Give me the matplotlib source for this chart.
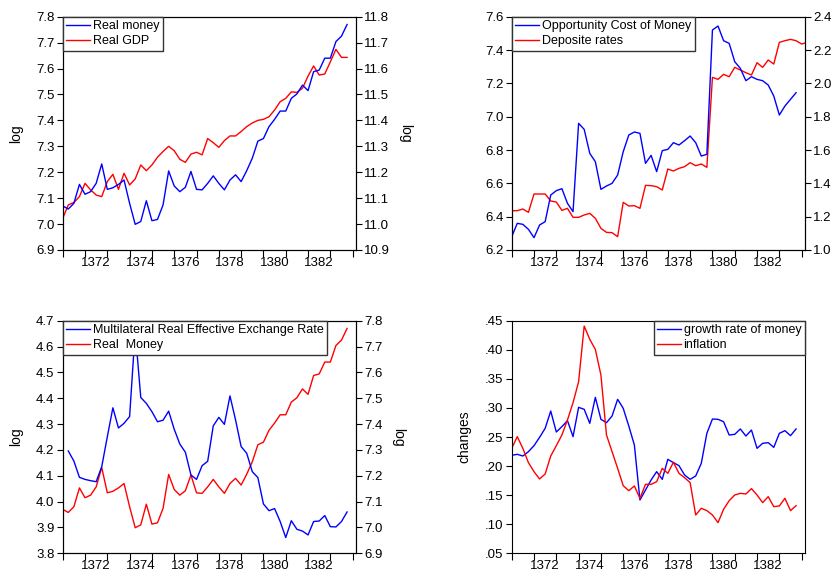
import matplotlib

matplotlib.use("Agg")
import matplotlib.pyplot as plt
import numpy as np

plt.rcParams["font.family"] = ["Liberation Sans", "DejaVu Sans"]
plt.rcParams["font.size"] = 9.5

# quarterly observations, 1371Q1 .. 1383Q4
year_labels = ["1372", "1374", "1376", "1378", "1380", "1382"]

real_money = [7.070, 7.058, 7.080, 7.153, 7.115, 7.125, 7.157, 7.232, 7.134, 7.140,
              7.153, 7.170, 7.080, 6.999, 7.010, 7.090, 7.013, 7.018, 7.074, 7.205,
              7.147, 7.125, 7.142, 7.203, 7.134, 7.132, 7.157, 7.186, 7.157, 7.132,
              7.170, 7.190, 7.164, 7.206, 7.254, 7.320, 7.330, 7.376, 7.404, 7.436,
              7.436, 7.485, 7.502, 7.536, 7.515, 7.588, 7.594, 7.640, 7.640, 7.704,
              7.725, 7.770]

real_gdp = [11.022, 11.074, 11.083, 11.106, 11.157, 11.132, 11.112, 11.106, 11.164, 11.192,
            11.134, 11.196, 11.151, 11.174, 11.228, 11.206, 11.228, 11.258, 11.280, 11.300,
            11.283, 11.250, 11.238, 11.270, 11.277, 11.267, 11.330, 11.314, 11.296, 11.322,
            11.340, 11.340, 11.357, 11.376, 11.390, 11.400, 11.404, 11.414, 11.440, 11.472,
            11.485, 11.510, 11.508, 11.524, 11.571, 11.610, 11.575, 11.579, 11.626, 11.674,
            11.643, 11.643]

opportunity_cost = [6.280, 6.360, 6.354, 6.324, 6.274, 6.350, 6.370, 6.530, 6.556, 6.568,
                    6.480, 6.430, 6.960, 6.924, 6.780, 6.730, 6.564, 6.584, 6.600, 6.650,
                    6.790, 6.890, 6.908, 6.900, 6.720, 6.768, 6.670, 6.796, 6.804, 6.844,
                    6.830, 6.856, 6.884, 6.844, 6.764, 6.774, 7.520, 7.544, 7.456, 7.440,
                    7.330, 7.290, 7.216, 7.240, 7.224, 7.216, 7.190, 7.124, 7.010, 7.064,
                    7.104, 7.144]

deposit_rates = [1.236, 1.236, 1.246, 1.226, 1.336, 1.336, 1.336, 1.294, 1.288, 1.238,
                 1.250, 1.196, 1.196, 1.210, 1.220, 1.190, 1.130, 1.106, 1.104, 1.080,
                 1.286, 1.264, 1.266, 1.250, 1.388, 1.386, 1.380, 1.360, 1.486, 1.474,
                 1.490, 1.500, 1.524, 1.506, 1.516, 1.496, 2.036, 2.024, 2.054, 2.040,
                 2.096, 2.080, 2.064, 2.050, 2.124, 2.096, 2.140, 2.116, 2.246, 2.256,
                 2.264, 2.256, 2.236, 2.246]

# exchange rate series starts one quarter later (1371Q2)
exchange_rate = [4.196, 4.157, 4.094, 4.086, 4.081, 4.077, 4.135, 4.251, 4.363,
                 4.285, 4.303, 4.329, 4.660, 4.403, 4.380, 4.348, 4.309, 4.315, 4.350,
                 4.280, 4.223, 4.191, 4.103, 4.086, 4.139, 4.156, 4.293, 4.326, 4.299,
                 4.409, 4.316, 4.213, 4.187, 4.116, 4.093, 3.991, 3.965, 3.973, 3.923,
                 3.861, 3.926, 3.893, 3.886, 3.871, 3.923, 3.925, 3.946, 3.903, 3.902,
                 3.923, 3.960]

money_growth = [0.2185, 0.2202, 0.2173, 0.2248, 0.2351, 0.2494, 0.2649, 0.2947, 0.2586, 0.2678,
                0.2781, 0.2506, 0.3010, 0.2976, 0.2735, 0.3182, 0.2804, 0.2746, 0.2861, 0.3148,
                0.2993, 0.2689, 0.2362, 0.1417, 0.1589, 0.1761, 0.1904, 0.1772, 0.2116, 0.2059,
                0.2007, 0.1847, 0.1772, 0.1830, 0.2047, 0.2563, 0.2809, 0.2804, 0.2763, 0.2534,
                0.2546, 0.2638, 0.2517, 0.2620, 0.2305, 0.2391, 0.2403, 0.2322, 0.2563, 0.2609,
                0.2523, 0.2638]

inflation = [0.2305, 0.2506, 0.2305, 0.2059, 0.1904, 0.1778, 0.1864, 0.2173, 0.2351, 0.2534,
             0.2792, 0.3090, 0.3451, 0.4408, 0.4179, 0.4007, 0.3566, 0.2534, 0.2248, 0.1961,
             0.1663, 0.1577, 0.1658, 0.1446, 0.1686, 0.1686, 0.1732, 0.1961, 0.1875, 0.2065,
             0.1875, 0.1801, 0.1715, 0.1159, 0.1274, 0.1234, 0.1159, 0.1027, 0.1256, 0.1405,
             0.1503, 0.1531, 0.1520, 0.1612, 0.1503, 0.1371, 0.1474, 0.1302, 0.1314, 0.1446,
             0.1234, 0.1319]

BLUE = "#0000ff"
RED = "#ff0000"
W, H = 832, 574
fmt1 = matplotlib.ticker.FormatStrFormatter("%.1f")


def make_axes(fig, left, top, right, bottom):
    return fig.add_axes([left / W, 1 - bottom / H, (right - left) / W, (bottom - top) / H])


def style_x(ax):
    ax.set_xlim(0, 52.6)
    ax.set_xticks(np.arange(0, 53, 4))
    ax.set_xticklabels([])
    ax.set_xticks(np.arange(6, 47, 8), minor=True)
    ax.set_xticklabels(year_labels, minor=True)
    ax.tick_params(axis="x", which="minor", length=0, pad=5)
    ax.tick_params(axis="x", which="major", direction="out", length=5)
    ax.tick_params(axis="y", direction="out", length=4, pad=2)


def add_legend(ax, handles, loc):
    leg = ax.legend(handles=handles, loc=loc, borderaxespad=0, fancybox=False,
                    framealpha=1, edgecolor="#333333", handlelength=1.85,
                    handletextpad=0.25, borderpad=0.3, labelspacing=0.2, fontsize=9)
    leg.get_frame().set_linewidth(1.0)
    leg.set_zorder(10)
    return leg


fig = plt.figure(figsize=(W / 100, H / 100), dpi=100)

# panel 1: real money vs real GDP
ax1 = make_axes(fig, 62.7, 16.7, 356, 250)
ax1r = ax1.twinx()
x = np.arange(len(real_money))
l1, = ax1.plot(x, real_money, color=BLUE, lw=1, label="Real money")
l2, = ax1r.plot(np.arange(len(real_gdp)), real_gdp, color=RED, lw=1, label="Real GDP")
ax1.set_ylim(6.9, 7.8)
ax1.set_yticks(np.arange(6.9, 7.81, 0.1))
ax1.yaxis.set_major_formatter(fmt1)
ax1r.set_ylim(10.9, 11.8)
ax1r.set_yticks(np.arange(10.9, 11.81, 0.1))
ax1r.yaxis.set_major_formatter(fmt1)
ax1r.tick_params(axis="y", direction="out", length=4, pad=2)
ax1.set_ylabel("log", labelpad=9, fontsize=10)
ax1r.set_ylabel("log", rotation=270, labelpad=16, fontsize=10)
style_x(ax1)
ax1.set_zorder(ax1r.get_zorder() + 1)
ax1.patch.set_visible(False)
add_legend(ax1, [l1, l2], "upper left")

# panel 2: opportunity cost vs deposit rates
ax2 = make_axes(fig, 511.7, 16.7, 805, 250)
ax2r = ax2.twinx()
l1, = ax2.plot(np.arange(len(opportunity_cost)), opportunity_cost, color=BLUE, lw=1,
               label="Opportunity Cost of Money")
l2, = ax2r.plot(np.arange(len(deposit_rates)), deposit_rates, color=RED, lw=1,
                label="Deposite rates")
ax2.set_ylim(6.2, 7.6)
ax2.set_yticks(np.arange(6.2, 7.61, 0.2))
ax2.yaxis.set_major_formatter(fmt1)
ax2r.set_ylim(1.0, 2.4)
ax2r.set_yticks(np.arange(1.0, 2.41, 0.2))
ax2r.yaxis.set_major_formatter(fmt1)
ax2r.tick_params(axis="y", direction="out", length=4, pad=2)
style_x(ax2)
ax2.set_zorder(ax2r.get_zorder() + 1)
ax2.patch.set_visible(False)
add_legend(ax2, [l1, l2], "upper left")

# panel 3: exchange rate vs real money
ax3 = make_axes(fig, 62.7, 320.7, 356, 553.3)
ax3r = ax3.twinx()
l1, = ax3.plot(np.arange(1, len(exchange_rate) + 1), exchange_rate, color=BLUE, lw=1,
               label="Multilateral Real Effective Exchange Rate")
l2, = ax3r.plot(x, real_money, color=RED, lw=1, label="Real  Money")
ax3.set_ylim(3.8, 4.7)
ax3.set_yticks(np.arange(3.8, 4.71, 0.1))
ax3.yaxis.set_major_formatter(fmt1)
ax3r.set_ylim(6.9, 7.8)
ax3r.set_yticks(np.arange(6.9, 7.81, 0.1))
ax3r.yaxis.set_major_formatter(fmt1)
ax3r.tick_params(axis="y", direction="out", length=4, pad=2)
ax3.set_ylabel("log", labelpad=9, fontsize=10)
ax3r.set_ylabel("log", rotation=270, labelpad=16, fontsize=10)
style_x(ax3)
ax3.set_zorder(ax3r.get_zorder() + 1)
ax3.patch.set_visible(False)
add_legend(ax3, [l1, l2], "upper left")

# panel 4: money growth vs inflation
ax4 = make_axes(fig, 511.7, 320.7, 805, 553.3)
l1, = ax4.plot(np.arange(len(money_growth)), money_growth, color=BLUE, lw=1,
               label="growth rate of money")
l2, = ax4.plot(np.arange(len(inflation)), inflation, color=RED, lw=1, label="inflation")
ax4.set_ylim(0.05, 0.45)
ax4.set_yticks(np.arange(0.05, 0.451, 0.05))
ax4.set_yticklabels([("%.2f" % v)[1:] for v in np.arange(0.05, 0.451, 0.05)])
ax4.set_ylabel("changes", labelpad=10, fontsize=10)
style_x(ax4)
add_legend(ax4, [l1, l2], "upper right")

fig.savefig("out.png", dpi=100)
plt.close(fig)
